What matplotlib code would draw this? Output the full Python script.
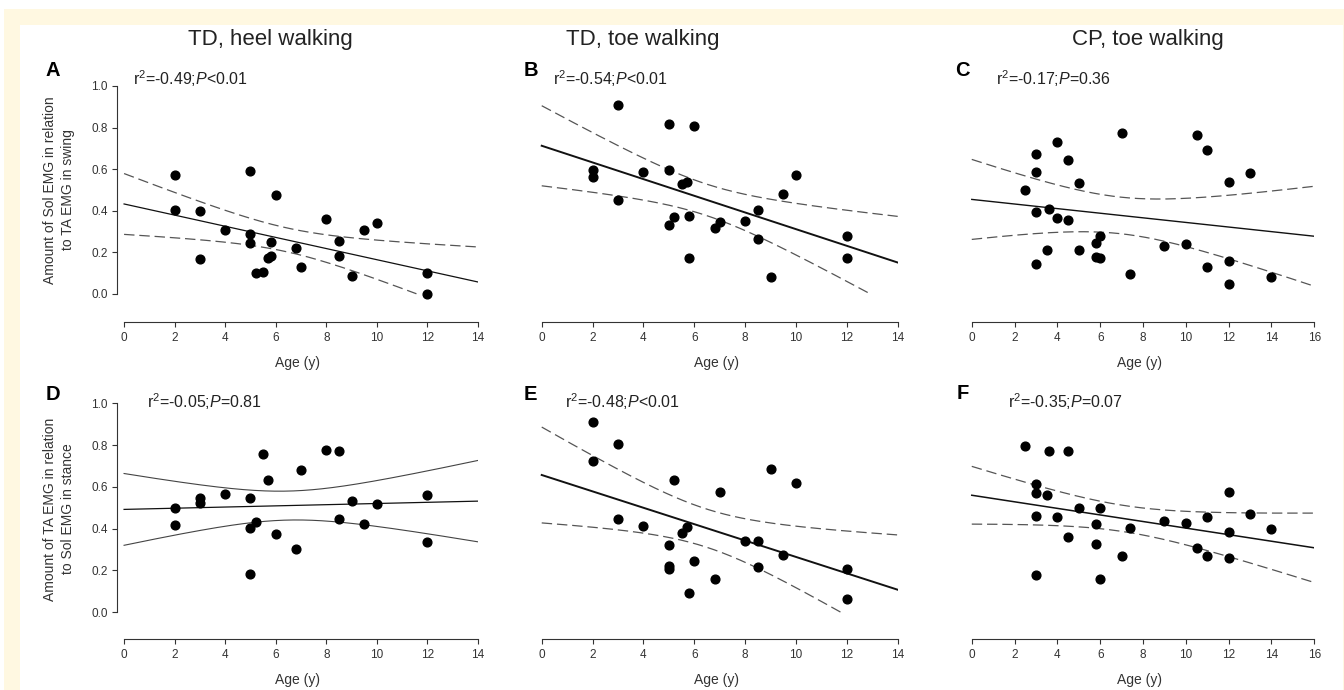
import numpy as np
import matplotlib
matplotlib.use("Agg")
import matplotlib.pyplot as plt
from matplotlib.patches import Rectangle

plt.rcParams['font.family'] = ['Liberation Sans', 'DejaVu Sans']
plt.rcParams['mathtext.fontset'] = 'custom'
plt.rcParams['mathtext.rm'] = 'Liberation Sans'
plt.rcParams['mathtext.it'] = 'Liberation Sans:italic'
plt.rcParams['lines.scale_dashes'] = False

# ---------------- data ----------------
col_titles = ["TD, heel walking", "TD, toe walking", "CP, toe walking"]
panel_letters = ["A", "B", "C", "D", "E", "F"]
stats_text = ["r$^2$=-0.49;$P$<0.01", "r$^2$=-0.54;$P$<0.01", "r$^2$=-0.17;$P$=0.36",
              "r$^2$=-0.05;$P$=0.81", "r$^2$=-0.48;$P$<0.01", "r$^2$=-0.35;$P$=0.07"]
ylabel_row1 = "Amount of Sol EMG in relation\nto TA EMG in swing"
ylabel_row2 = "Amount of TA EMG in relation\nto Sol EMG in stance"
xlabel = "Age (y)"
xticks_td = [0, 2, 4, 6, 8, 10, 12, 14]
xticks_cp = [0, 2, 4, 6, 8, 10, 12, 14, 16]
yticks = [0.0, 0.2, 0.4, 0.6, 0.8, 1.0]

a_age = [2, 2, 3, 3, 4, 5, 5, 5, 6, 5.8, 5.2, 5.5, 5.7, 5.8, 6.8, 7, 8, 8.5, 8.5, 9, 9.5, 10, 12, 12]
a_val = [0.57, 0.404, 0.399, 0.166, 0.31, 0.593, 0.288, 0.246, 0.474, 0.252, 0.10, 0.104,
         0.173, 0.184, 0.22, 0.128, 0.361, 0.257, 0.185, 0.088, 0.308, 0.342, 0.10, 0.0]

b_age = [3, 5, 6, 2, 2, 4, 5, 5.5, 5.7, 3, 5.2, 5, 5.8, 6.8, 7, 8, 8.5, 8.5, 5.8, 9, 9.5, 10, 12, 12]
b_val = [0.907, 0.819, 0.807, 0.596, 0.564, 0.588, 0.594, 0.527, 0.537, 0.452, 0.372, 0.334,
         0.377, 0.318, 0.348, 0.353, 0.404, 0.264, 0.171, 0.083, 0.479, 0.572, 0.28, 0.171]

c_age = [7, 10.5, 11, 4, 3, 4.5, 3, 5, 2.5, 13, 12, 3, 3.6, 4, 4.5, 6, 5.8, 3.5, 5, 3, 5.8, 6,
         7.4, 9, 10, 11, 12, 12, 14]
c_val = [0.773, 0.765, 0.693, 0.730, 0.671, 0.644, 0.586, 0.534, 0.50, 0.581, 0.540, 0.393,
         0.407, 0.363, 0.355, 0.278, 0.243, 0.212, 0.212, 0.145, 0.179, 0.171, 0.096, 0.230,
         0.241, 0.131, 0.158, 0.050, 0.080]

d_age = [2, 2, 3, 3, 4, 5, 5, 5.2, 5, 5.5, 5.7, 6, 6.8, 7, 8, 8.5, 8.5, 9, 9.5, 10, 12, 12]
d_val = [0.501, 0.419, 0.549, 0.523, 0.566, 0.545, 0.402, 0.431, 0.185, 0.759, 0.632, 0.376,
         0.303, 0.681, 0.775, 0.77, 0.446, 0.531, 0.421, 0.518, 0.561, 0.338]

e_age = [2, 3, 2, 5.2, 7, 9, 10, 3, 4, 5.5, 5.7, 5, 5, 5, 6, 6.8, 5.8, 8, 8.5, 8.5, 9.5, 12, 12]
e_val = [0.909, 0.807, 0.726, 0.632, 0.577, 0.686, 0.617, 0.448, 0.411, 0.381, 0.407, 0.321,
         0.22, 0.209, 0.244, 0.158, 0.093, 0.341, 0.341, 0.215, 0.274, 0.206, 0.062]

f_age = [2.5, 3.6, 4.5, 3, 3, 3.5, 5, 6, 3, 4, 5.8, 7.4, 9, 10, 11, 12, 13, 14, 12, 4.5, 5.8,
         7, 10.5, 11, 12, 3, 6]
f_val = [0.796, 0.770, 0.770, 0.612, 0.573, 0.562, 0.499, 0.499, 0.459, 0.455, 0.424, 0.402,
         0.437, 0.427, 0.456, 0.577, 0.472, 0.399, 0.383, 0.360, 0.327, 0.27, 0.306, 0.27,
         0.258, 0.179, 0.158]

panel_data = [(a_age, a_val), (b_age, b_val), (c_age, c_val),
              (d_age, d_val), (e_age, e_val), (f_age, f_val)]

# t critical values (two-sided 95%) by degrees of freedom
t_crit = {19: 2.093, 20: 2.086, 21: 2.080, 22: 2.074, 23: 2.069, 24: 2.064,
          25: 2.060, 26: 2.056, 27: 2.052, 28: 2.048}

# ---------------- layout ----------------
W, H = 1344, 690
fig = plt.figure(figsize=(W / 100, H / 100), dpi=100, facecolor='white')

def fx(px):
    return px / W

def fy(py):
    return 1 - py / H

fig.add_artist(Rectangle((fx(4), 0), fx(1344) - fx(4), fy(9), transform=fig.transFigure,
                         facecolor='#FFF8E1', edgecolor='none', zorder=-10))
fig.add_artist(Rectangle((fx(20), 0), fx(1343) - fx(20), fy(25), transform=fig.transFigure,
                         facecolor='white', edgecolor='none', zorder=-9))

# axes pixel boxes: (left, right, top, bottom)
col_lr = [(117, 478), (534.6, 897.7), (964.7, 1314.3)]
col_xlim = [(-0.28, 14.0), (-0.28, 14.0), (-0.33, 16.0)]
row_tb = [(86, 322), (403.3, 639)]
row_ylim = [(-0.1347, 1.0), (-0.128, 1.0)]

line_w = [0.9, 1.4, 1.0, 0.9, 1.4, 1.1]
band_dashed = [True, True, True, False, True, True]

letter_pos = [(52.5, 76), (530.8, 76.5), (962.5, 76), (52.5, 400), (530.8, 400), (962.8, 399)]
stats_pos = [(133.3, 85), (553.3, 85), (996, 85), (146.7, 408.5), (565, 408.3), (1008.3, 407.7)]
title_pos = [(270, 45), (642.7, 45), (1147.5, 45)]

axis_col = '#333333'
text_col = '#222222'

for i in range(6):
    r, c = divmod(i, 3)
    l, rgt = col_lr[c]
    t, b = row_tb[r]
    ax = fig.add_axes([fx(l), fy(b), fx(rgt) - fx(l), (b - t) / H])
    ax.set_facecolor('none')
    ax.set_xlim(*col_xlim[c])
    ax.set_ylim(*row_ylim[r])
    xmax = col_xlim[c][1]

    x = np.array(panel_data[i][0], dtype=float)
    y = np.array(panel_data[i][1], dtype=float)
    n = len(x)
    slope, intercept = np.polyfit(x, y, 1)
    xs = np.linspace(0, xmax, 300)
    yhat = intercept + slope * xs
    res = y - (intercept + slope * x)
    s = np.sqrt(np.sum(res ** 2) / (n - 2))
    sxx = np.sum((x - x.mean()) ** 2)
    half = t_crit[n - 2] * s * np.sqrt(1 / n + (xs - x.mean()) ** 2 / sxx)
    upper = yhat + half
    lower = yhat - half
    lower = np.where(lower < 0, np.nan, lower)

    ax.plot(xs, yhat, color='#111111', lw=line_w[i], zorder=2)
    if band_dashed[i]:
        kw = dict(color='#555555', lw=0.9, dashes=(7.5, 3.5))
    else:
        kw = dict(color='#444444', lw=0.8)
    ax.plot(xs, upper, zorder=2, **kw)
    ax.plot(xs, lower, zorder=2, **kw)

    ax.plot(x, y, 'o', color='black', ms=6.3, mec='black', zorder=3, clip_on=False)

    for sp in ['top', 'right']:
        ax.spines[sp].set_visible(False)
    ax.spines['bottom'].set_bounds(0, xmax)
    ax.spines['bottom'].set_color(axis_col)
    ax.spines['bottom'].set_linewidth(0.8)
    ax.set_xticks(xticks_cp if c == 2 else xticks_td)
    ax.set_xticklabels([str(v) for v in (xticks_cp if c == 2 else xticks_td)])
    ax.tick_params(axis='x', direction='out', length=3.5, width=0.8, color=axis_col,
                   labelsize=8.5, labelcolor='#333333', pad=4)
    if c == 0:
        ax.spines['left'].set_bounds(0, 1)
        ax.spines['left'].set_color(axis_col)
        ax.spines['left'].set_linewidth(0.8)
        ax.set_yticks(yticks)
        ax.set_yticklabels([f"{v:.1f}" for v in yticks])
        ax.tick_params(axis='y', direction='out', length=3.5, width=0.8, color=axis_col,
                       labelsize=8.5, labelcolor='#333333', pad=3)
    else:
        ax.spines['left'].set_visible(False)
        ax.set_yticks([])

    ax.set_xlabel(xlabel, fontsize=10, color='#333333', labelpad=8.5)

    lx, ly = letter_pos[i]
    fig.text(fx(lx), fy(ly), panel_letters[i], fontsize=14.5, fontweight='bold',
             ha='center', va='baseline', color='black')
    sx, sy = stats_pos[i]
    fig.text(fx(sx), fy(sy), stats_text[i], fontsize=11.5, ha='left', va='baseline',
             color=text_col)

for c in range(3):
    tx, ty = title_pos[c]
    fig.text(fx(tx), fy(ty), col_titles[c], fontsize=16, ha='center', va='baseline',
             color=text_col)

fig.text(fx(59), fy(190), ylabel_row1, rotation=90, fontsize=10, ha='center', va='center',
         multialignment='center', linespacing=1.45, color='#333333')
fig.text(fx(59), fy(509), ylabel_row2, rotation=90, fontsize=10, ha='center', va='center',
         multialignment='center', linespacing=1.45, color='#333333')

fig.savefig('out.png', dpi=100, facecolor='white')
